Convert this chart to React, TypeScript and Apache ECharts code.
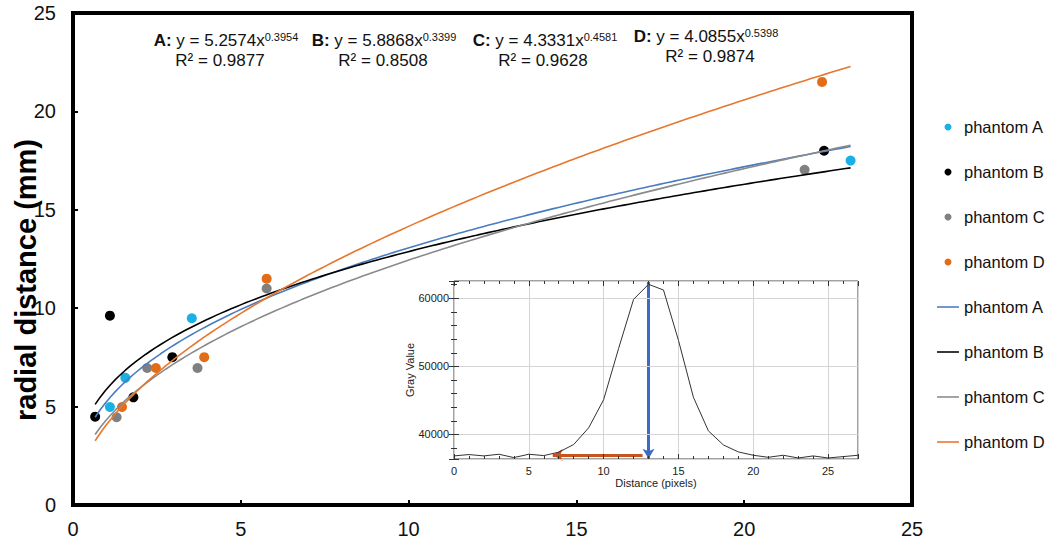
import React, { useEffect, useRef } from "react";
import * as echarts from "echarts";

// ---- main chart data ----
const phantomAX = [1.1, 1.56, 3.54, 23.17];
const phantomAY = [4.98, 6.46, 9.49, 17.5];
const phantomBX = [0.66, 1.1, 1.8, 2.96, 22.38];
const phantomBY = [4.49, 9.62, 5.47, 7.51, 18.0];
const phantomCX = [1.3, 2.21, 3.71, 5.77, 21.8];
const phantomCY = [4.46, 6.96, 6.96, 11.0, 17.03];
const phantomDX = [1.46, 2.47, 3.91, 5.77, 22.32];
const phantomDY = [4.98, 6.96, 7.51, 11.5, 21.5];

// power-law trendline coefficients printed on the chart: y = a * x^b
const fitA = [5.2574, 0.3954];
const fitB = [5.8868, 0.3399];
const fitC = [4.3331, 0.4581];
const fitD = [4.0855, 0.5398];
const trendRange = [0.66, 23.17];

const r2Values = ["0.9877", "0.8508", "0.9628", "0.9874"];
const eqLetters = ["A", "B", "C", "D"];
const eqCoefs = ["5.2574", "5.8868", "4.3331", "4.0855"];
const eqExps = ["0.3954", "0.3399", "0.4581", "0.5398"];

const mainTicks = [0, 5, 10, 15, 20, 25];

// ---- inset profile data ----
const insetX = [0, 1, 2, 3, 4, 5, 6, 7, 8, 9, 10, 11, 12, 13, 14, 15, 16, 17, 18, 19, 20, 21, 22, 23, 24, 25, 26, 27];
const insetY = [
  36855, 37050, 36855, 37100, 36610, 37100, 36900, 37400, 38530, 40980, 45110, 52630, 59850, 62060,
  61230, 53840, 45470, 40540, 38470, 37440, 36950, 36650, 36950, 36550, 36850, 36550, 36750, 36950,
];
const insetRangeX = [0, 27];
const insetRangeY = [36400, 62550];
const peakArrow = [13, 62550, 36450];
const widthArrow = [12.6, 6.6, 37000];

const legendLabels: Record<string, string> = {
  sA: "phantom A", sB: "phantom B", sC: "phantom C", sD: "phantom D",
  lA: "phantom A", lB: "phantom B", lC: "phantom C", lD: "phantom D",
};

const FONT = "'Liberation Sans', Arial, sans-serif";
const LINE_ICON = "path://M0,0 L24,0 L24,1.7 L0,1.7 Z";

function zip(xs: number[], ys: number[]) {
  return xs.map((x, i) => [x, ys[i]]);
}

function trend(coef: number[]) {
  const pts: number[][] = [];
  const n = 150;
  for (let i = 0; i <= n; i++) {
    const x = trendRange[0] + ((trendRange[1] - trendRange[0]) * i) / n;
    pts.push([x, coef[0] * Math.pow(x, coef[1])]);
  }
  return pts;
}

const dotColors = ["#1ab0e6", "#000000", "#808080", "#e36c17"];
const lineColors = ["#4a7cc0", "#000000", "#8a8a8a", "#e8762d"];

const eqFormulaPos = [[226, 40], [384, 40], [545, 40], [706, 36]];
const eqR2Pos = [[220, 60], [383, 60], [543, 60], [710, 56]];

function buildOption() {
  const scatterSeries = [
    zip(phantomAX, phantomAY),
    zip(phantomBX, phantomBY),
    zip(phantomCX, phantomCY),
    zip(phantomDX, phantomDY),
  ].map((d, i) => ({
    name: "s" + eqLetters[i],
    type: "scatter",
    xAxisIndex: 0,
    yAxisIndex: 0,
    data: d,
    symbol: "circle",
    symbolSize: 10,
    itemStyle: { color: dotColors[i], opacity: 1 },
    z: 2,
    silent: true,
  }));
  const lineSeries = [fitA, fitB, fitC, fitD].map((c, i) => ({
    name: "l" + eqLetters[i],
    type: "line",
    xAxisIndex: 0,
    yAxisIndex: 0,
    data: trend(c),
    symbol: "none",
    showSymbol: false,
    lineStyle: { color: lineColors[i], width: 1.6 },
    itemStyle: { color: lineColors[i] },
    z: 3,
    silent: true,
  }));

  const graphics: any[] = [];
  eqLetters.forEach((L, i) => {
    graphics.push({
      type: "text",
      x: eqFormulaPos[i][0],
      y: eqFormulaPos[i][1],
      style: {
        text: `{b|${L}:} y = ${eqCoefs[i]}x{s|${eqExps[i]}}`,
        rich: {
          b: { fontWeight: "bold", fontSize: 17, fontFamily: FONT, fill: "#111" },
          s: { fontSize: 11, fontFamily: FONT, verticalAlign: "top", fill: "#111" },
        },
        fontSize: 17,
        fontFamily: FONT,
        fill: "#111",
        align: "center",
        verticalAlign: "middle",
      },
    });
    graphics.push({
      type: "text",
      x: eqR2Pos[i][0],
      y: eqR2Pos[i][1],
      style: {
        text: `R² = ${r2Values[i]}`,
        fontSize: 17,
        fontFamily: FONT,
        fill: "#111",
        align: "center",
        verticalAlign: "middle",
      },
    });
  });
  graphics.push({
    type: "text",
    x: 26,
    y: 280,
    rotation: Math.PI / 2,
    style: {
      text: "radial distance (mm)",
      fontSize: 29,
      fontWeight: "bold",
      fontFamily: FONT,
      fill: "#000",
      align: "center",
      verticalAlign: "middle",
    },
  });
  graphics.push({
    type: "text",
    x: 410,
    y: 370,
    rotation: Math.PI / 2,
    style: {
      text: "Gray Value",
      fontSize: 11,
      fontFamily: FONT,
      fill: "#222",
      align: "center",
      verticalAlign: "middle",
    },
    z: 20,
  });
  graphics.push({
    type: "text",
    x: 656,
    y: 483,
    style: {
      text: "Distance (pixels)",
      fontSize: 11,
      fontFamily: FONT,
      fill: "#222",
      align: "center",
      verticalAlign: "middle",
    },
    z: 20,
  });

  const insetTickLabel = { color: "#222", fontSize: 11, fontFamily: FONT };

  return {
    animation: false,
    backgroundColor: "#fff",
    textStyle: { fontFamily: FONT },
    grid: [
      { left: 73, top: 13, width: 839, height: 492, show: true, borderColor: "#000", borderWidth: 4, backgroundColor: "transparent" },
      { left: 454, top: 281, width: 404, height: 178, show: true, borderColor: "#444", borderWidth: 1, backgroundColor: "#fff", z: 5 },
    ],
    legend: {
      orient: "vertical",
      left: 932,
      top: 112,
      itemWidth: 22,
      itemHeight: 7,
      itemGap: 25,
      formatter: (n: string) => legendLabels[n],
      textStyle: { fontSize: 16.5, fontFamily: FONT, color: "#111", lineHeight: 20 },
      selectedMode: false,
      data: [
        { name: "sA", icon: "circle" },
        { name: "sB", icon: "circle" },
        { name: "sC", icon: "circle" },
        { name: "sD", icon: "circle" },
        { name: "lA", icon: LINE_ICON },
        { name: "lB", icon: LINE_ICON },
        { name: "lC", icon: LINE_ICON },
        { name: "lD", icon: LINE_ICON },
      ],
    },
    xAxis: [
      {
        type: "value",
        gridIndex: 0,
        min: mainTicks[0],
        max: mainTicks[mainTicks.length - 1],
        interval: 5,
        axisLine: { show: false },
        axisTick: { show: true, inside: true, length: 5, lineStyle: { color: "#000", width: 2 } },
        splitLine: { show: false },
        axisLabel: { color: "#111", fontSize: 20, fontFamily: FONT, margin: 14 },
      },
      {
        type: "value",
        gridIndex: 1,
        min: insetRangeX[0],
        max: insetRangeX[1],
        interval: 5,
        axisLine: { show: false },
        axisTick: { show: true, inside: true, length: 5, lineStyle: { color: "#333" } },
        minorTick: { show: true, splitNumber: 5, length: 3, lineStyle: { color: "#333" } },
        splitLine: { show: true, lineStyle: { color: "#d4d4d4", width: 1 } },
        axisLabel: { ...insetTickLabel, margin: 6, showMaxLabel: false },
        z: 6,
      },
      {
        type: "value",
        gridIndex: 1,
        position: "top",
        min: insetRangeX[0],
        max: insetRangeX[1],
        interval: 5,
        axisLine: { show: false },
        axisTick: { show: true, inside: true, length: 5, lineStyle: { color: "#333" } },
        minorTick: { show: true, splitNumber: 5, length: 3, lineStyle: { color: "#333" } },
        splitLine: { show: false },
        axisLabel: { show: false },
        z: 6,
      },
    ],
    yAxis: [
      {
        type: "value",
        gridIndex: 0,
        min: mainTicks[0],
        max: mainTicks[mainTicks.length - 1],
        interval: 5,
        axisLine: { show: false },
        axisTick: { show: true, inside: true, length: 5, lineStyle: { color: "#000", width: 2 } },
        splitLine: { show: false },
        axisLabel: { color: "#111", fontSize: 20, fontFamily: FONT, margin: 17 },
      },
      {
        type: "value",
        gridIndex: 1,
        min: insetRangeY[0],
        max: insetRangeY[1],
        splitNumber: 2,
        axisLine: { show: false },
        axisTick: { show: true, inside: true, length: 5, lineStyle: { color: "#333" } },
        minorTick: { show: true, splitNumber: 5, length: 3, lineStyle: { color: "#333" } },
        splitLine: { show: true, lineStyle: { color: "#d4d4d4", width: 1 } },
        axisLabel: {
          ...insetTickLabel,
          margin: 5,
          showMinLabel: false,
          showMaxLabel: false,
          formatter: (v: number) => String(v),
        },
        z: 6,
      },
      {
        type: "value",
        gridIndex: 1,
        position: "right",
        min: insetRangeY[0],
        max: insetRangeY[1],
        splitNumber: 2,
        axisLine: { show: false },
        axisTick: { show: true, inside: true, length: 5, lineStyle: { color: "#333" } },
        minorTick: { show: true, splitNumber: 5, length: 3, lineStyle: { color: "#333" } },
        splitLine: { show: false },
        axisLabel: { show: false },
        z: 6,
      },
    ],
    series: [
      ...scatterSeries,
      ...lineSeries,
      {
        name: "profile",
        type: "line",
        xAxisIndex: 1,
        yAxisIndex: 1,
        data: zip(insetX, insetY),
        symbol: "none",
        lineStyle: { color: "#333", width: 1 },
        z: 7,
        silent: true,
        markLine: {
          silent: true,
          symbol: ["none", "arrow"],
          symbolSize: [9, 10],
          label: { show: false },
          data: [
            [
              { coord: [peakArrow[0], peakArrow[1]], lineStyle: { color: "#3a6cc6", width: 3, type: "solid" } },
              { coord: [peakArrow[0], peakArrow[2]] },
            ],
            [
              { coord: [widthArrow[0], widthArrow[2]], lineStyle: { color: "#c6541c", width: 3, type: "solid" } },
              { coord: [widthArrow[1], widthArrow[2]] },
            ],
          ],
        },
      },
    ],
    graphic: graphics,
  };
}

export default function App() {
  const ref = useRef<HTMLDivElement>(null);
  useEffect(() => {
    if (!ref.current) return;
    const chart = echarts.init(ref.current, null, { renderer: "svg" });
    chart.setOption(buildOption() as any);
    return () => chart.dispose();
  }, []);
  return (
    <div
      ref={ref}
      style={{ position: "fixed", left: 0, top: 0, width: 1053, height: 543, background: "#fff" }}
    />
  );
}
